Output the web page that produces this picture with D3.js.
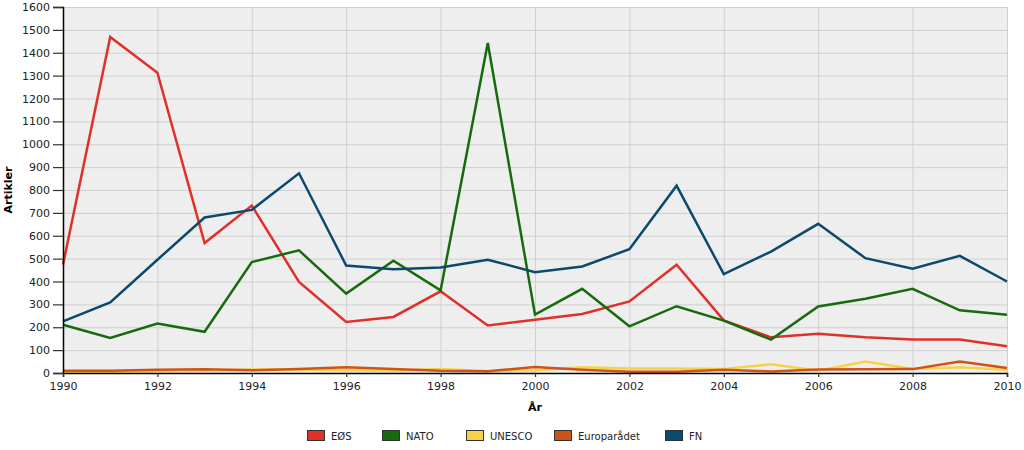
<!DOCTYPE html>
<html>
<head>
<meta charset="utf-8">
<script src="https://cdn.jsdelivr.net/npm/d3@7"></script>
<style>
  body { margin: 0; background: #fff; }
  svg { font-family: "DejaVu Sans", sans-serif; }
</style>
</head>
<body>
<div id="chart"></div>
<script>
// data
var years = d3.range(1990, 2011);
var seriesNames = ["EØS", "NATO", "UNESCO", "Europarådet", "FN"];
var eos = [473, 1469, 1313, 568, 732, 398, 223, 245, 357, 208, 233, 258, 313, 473, 230, 156, 172, 156, 146, 146, 117];
var nato = [211, 153, 216, 180, 485, 536, 347, 491, 361, 1443, 255, 368, 204, 292, 229, 146, 291, 325, 368, 274, 255];
var unesco = [5, 5, 8, 10, 15, 15, 12, 10, 18, 8, 12, 25, 20, 20, 18, 38, 10, 50, 18, 25, 14];
var europaradet = [10, 10, 14, 16, 12, 18, 25, 18, 10, 8, 26, 14, 5, 5, 14, 7, 15, 16, 17, 50, 22];
var fn = [226, 309, 495, 680, 713, 873, 470, 454, 461, 495, 441, 466, 541, 819, 432, 531, 652, 502, 456, 512, 400];
var yTicks = d3.range(0, 1601, 100);
var xTicks = d3.range(1990, 2011, 2);

var width = 1024, height = 450;
var margin = {top: 7, left: 63, right: 17, bottom: 77};
var colors = ["#e0302a", "#176b0e", "#f6d24a", "#cf5314", "#0b4a6b"];
var values = [eos, nato, unesco, europaradet, fn];

var w = width - margin.left - margin.right;
var h = height - margin.top - margin.bottom;

var x = d3.scaleLinear().domain([1990, 2010]).range([margin.left, margin.left + w]);
var y = d3.scaleLinear().domain([0, 1600]).range([margin.top + h, margin.top]);

var svg = d3.select("#chart").append("svg")
    .attr("width", width)
    .attr("height", height);

// plot background
svg.append("rect")
    .attr("x", margin.left)
    .attr("y", margin.top)
    .attr("width", w)
    .attr("height", h)
    .attr("fill", "#eeeeee");

// grid
svg.append("g").selectAll("line")
    .data(yTicks.slice(1))
  .enter().append("line")
    .attr("x1", margin.left)
    .attr("x2", margin.left + w)
    .attr("y1", function (d) { return y(d) + 0.5; })
    .attr("y2", function (d) { return y(d) + 0.5; })
    .attr("stroke", "#cfcfcf")
    .attr("stroke-width", 1);

svg.append("g").selectAll("line")
    .data(xTicks.slice(1))
  .enter().append("line")
    .attr("x1", function (d) { return x(d) + 0.5; })
    .attr("x2", function (d) { return x(d) + 0.5; })
    .attr("y1", margin.top)
    .attr("y2", margin.top + h)
    .attr("stroke", "#cfcfcf")
    .attr("stroke-width", 1);

// lines
var line = d3.line()
    .x(function (d, i) { return x(years[i]); })
    .y(function (d) { return y(d); });

svg.append("g").selectAll("path")
    .data(values)
  .enter().append("path")
    .attr("d", line)
    .attr("fill", "none")
    .attr("stroke", function (d, i) { return colors[i]; })
    .attr("stroke-width", 2.5)
    .attr("stroke-linejoin", "miter");

// axes
var yAxis = svg.append("g")
    .attr("transform", "translate(" + margin.left + ",0)")
    .call(d3.axisLeft(y).tickValues(yTicks).tickSize(10).tickPadding(3).tickFormat(d3.format("d")));
var xAxis = svg.append("g")
    .attr("transform", "translate(0," + (margin.top + h) + ")")
    .call(d3.axisBottom(x).tickValues(xTicks).tickSize(4).tickPadding(5).tickFormat(d3.format("d")));

[yAxis, xAxis].forEach(function (a) {
  a.select(".domain").attr("stroke", "#000").attr("stroke-width", 1.5);
  a.selectAll(".tick line").attr("stroke", "#333").attr("stroke-width", 1.2);
  a.selectAll("text")
      .attr("font-family", "DejaVu Sans")
      .attr("font-size", "11px")
      .attr("fill", "#222");
});

// axis titles
svg.append("text")
    .attr("transform", "translate(12," + (margin.top + h / 2) + ") rotate(-90)")
    .attr("text-anchor", "middle")
    .attr("font-size", "11px")
    .attr("font-weight", "bold")
    .text("Artikler");

svg.append("text")
    .attr("x", x(2000))
    .attr("y", 411)
    .attr("text-anchor", "middle")
    .attr("font-size", "11px")
    .attr("font-weight", "bold")
    .text("År");

// legend
var legendX = [307, 382, 466, 554, 665];
var legend = svg.append("g").selectAll("g")
    .data(seriesNames)
  .enter().append("g")
    .attr("transform", function (d, i) { return "translate(" + legendX[i] + ",430)"; });

legend.append("rect")
    .attr("x", 0.5)
    .attr("y", 0.5)
    .attr("width", 17)
    .attr("height", 10)
    .attr("fill", function (d, i) { return colors[i]; })
    .attr("stroke", "#333")
    .attr("stroke-width", 1);

legend.append("text")
    .attr("x", 24)
    .attr("y", 9.5)
    .attr("font-size", "10px")
    .attr("fill", "#222")
    .text(function (d) { return d; });
</script>
</body>
</html>
